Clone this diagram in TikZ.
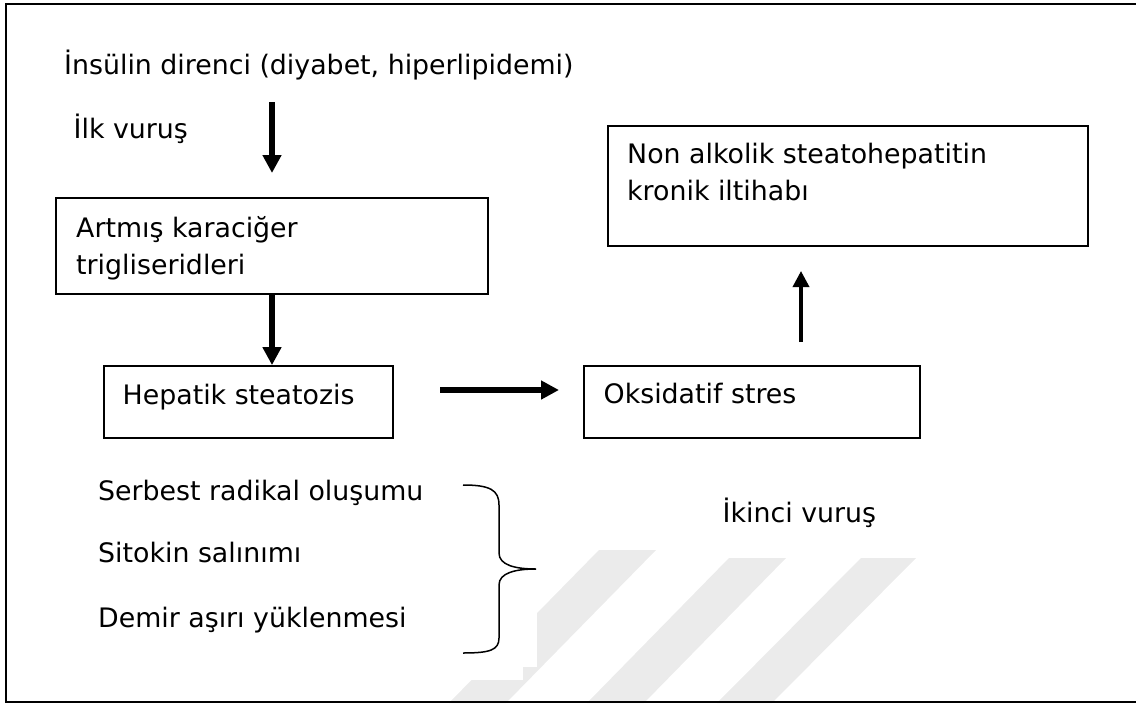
\documentclass[tikz,border=0pt]{standalone}
\usepackage{fontspec}
\setmainfont{DejaVu Sans}
\usetikzlibrary{arrows.meta}
\begin{document}
\begin{tikzpicture}[x=1pt,y=-1pt,
  box/.style={draw=black, line width=1.8pt, inner sep=0pt},
  lbl/.style={anchor=base west, inner sep=0pt, font=\fontsize{26.8}{30}\selectfont},
  bigarrow/.style={line width=5.5pt, -{Triangle[length=18pt,width=18pt]}},
  thinarrow/.style={line width=3.5pt, -{Triangle[length=16pt,width=16pt]}},
  wm/.style={fill=black!8, draw=none},
  frame/.style={draw=black, line width=2pt}]
\useasboundingbox (0,0) rectangle (1136,705);
% faint watermark stripes
\fill[wm] (599,550) -- (656,550) -- (506,703) -- (449,703) -- cycle;
\fill[wm] (729,558) -- (786,558) -- (644,703) -- (587,703) -- cycle;
\fill[wm] (861,558) -- (916,558) -- (772,703) -- (717,703) -- cycle;
\fill[white] (78,460) rectangle (537,667);
\fill[white] (78,667) rectangle (523,680);
% outer frame (open on the right)
\draw[frame] (1136,4) -- (6,4) -- (6,702) -- (1136,702);
% boxes
\node[box, minimum width=432pt, minimum height=96pt] (artmis) at (272,246) {};
\node[box, minimum width=289pt, minimum height=72pt] (hepatik) at (248.5,402) {};
\node[box, minimum width=336pt, minimum height=72pt] (oksid) at (752,402) {};
\node[box, minimum width=480pt, minimum height=120pt] (nash) at (848,186) {};
% texts
\node[lbl] (insulin) at (64,74) {İnsülin direnci (diyabet, hiperlipidemi)};
\node[lbl] (ilk) at (73.5,138) {İlk vuruş};
\node[lbl] (artmis1) at (76,237) {Artmış karaciğer};
\node[lbl] (artmis2) at (76,274) {trigliseridleri};
\node[lbl] (nash1) at (627,163) {Non alkolik steatohepatitin};
\node[lbl] (nash2) at (627,200) {kronik iltihabı};
\node[lbl] (heptxt) at (122.5,404) {Hepatik steatozis};
\node[lbl] (okstxt) at (603.5,403) {Oksidatif stres};
\node[lbl] (serbest) at (98,500) {Serbest radikal oluşumu};
\node[lbl] (sitokin) at (98,562) {Sitokin salınımı};
\node[lbl] (demir) at (98,627) {Demir aşırı yüklenmesi};
\node[lbl] (ikinci) at (722.5,522) {İkinci vuruş};
% arrows
\coordinate (a1s) at (272,102);
\coordinate (a1e) at (272,173);
\draw[bigarrow] (a1s) -- (a1e);
\draw[bigarrow] (artmis.south) -- (artmis.south |- hepatik.north);
\coordinate (a3s) at (440,390);
\coordinate (a3e) at (559,390);
\draw[bigarrow] (a3s) -- (a3e);
\coordinate (a4s) at (801,342);
\coordinate (a4e) at (801,271);
\draw[thinarrow] (a4s) -- (a4e);
% brace
\coordinate (brtop) at (463,485);
\coordinate (brtip) at (536,569);
\coordinate (brbot) at (463,653);
\draw[line width=1.5pt] (brtop) .. controls (490,485) and (499,490) .. (499,505)
  -- (499,553) .. controls (499,565) and (515,569) .. (brtip)
  .. controls (515,569) and (499,573) .. (499,585)
  -- (499,638) .. controls (499,650) and (490,653) .. (brbot);
\end{tikzpicture}
\end{document}
